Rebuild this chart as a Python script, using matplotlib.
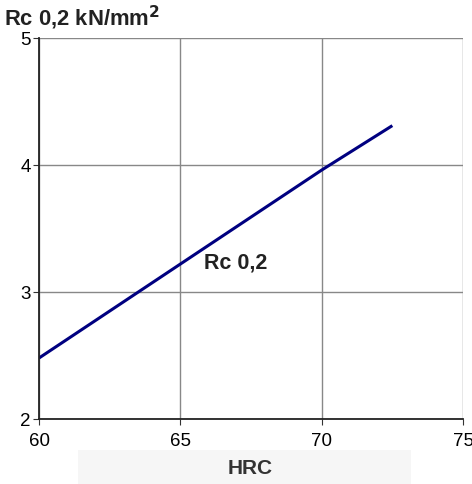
import matplotlib
matplotlib.use('Agg')
import matplotlib.pyplot as plt
from matplotlib.patches import Rectangle

plt.rcParams['font.family'] = ['Liberation Sans', 'DejaVu Sans']

hrc = [60, 65, 70, 72.5]
rc02 = [2.48, 3.22, 3.96, 4.31]
xticks = [60, 65, 70, 75]
yticks = [2, 3, 4, 5]

fig = plt.figure(figsize=(4.72, 4.84), dpi=100)
ax = fig.add_axes([39/472, 65/484, 424/472, 381/484])

ax.plot(hrc, rc02, color='#000080', lw=2.2, solid_capstyle='butt')
ax.set_xlim(60, 75)
ax.set_ylim(2, 5)
ax.set_xticks(xticks)
ax.set_yticks(yticks)
ax.grid(True, color='#888888', lw=1)
ax.tick_params(labelsize=13.5, length=4, color='#333333', direction='out')
ax.tick_params(axis='x', pad=6)
ax.tick_params(axis='y', pad=2)
for s in ['top', 'right']:
    ax.spines[s].set_visible(False)
for s in ['left', 'bottom']:
    ax.spines[s].set_color('#222222')
    ax.spines[s].set_linewidth(1.3)

ax.text(66.97, 3.23, 'Rc 0,2', fontsize=15.5, fontweight='bold', color='#222222',
        ha='center', va='center')

fig.text(4/472, 1 - 26/484, 'Rc 0,2 kN/mm$^\\mathbf{2}$', fontsize=15.8,
         fontweight='bold', color='#222222', ha='left', va='baseline')

fig.patches.append(Rectangle((78/472, 0), 333/472, 34/484, transform=fig.transFigure,
                             facecolor='#f6f6f6', edgecolor='none', zorder=0))
fig.text(250/472, 1 - 469/484, 'HRC', fontsize=15, fontweight='bold',
         color='#333333', ha='center', va='center')

fig.savefig('out.png', dpi=100)
